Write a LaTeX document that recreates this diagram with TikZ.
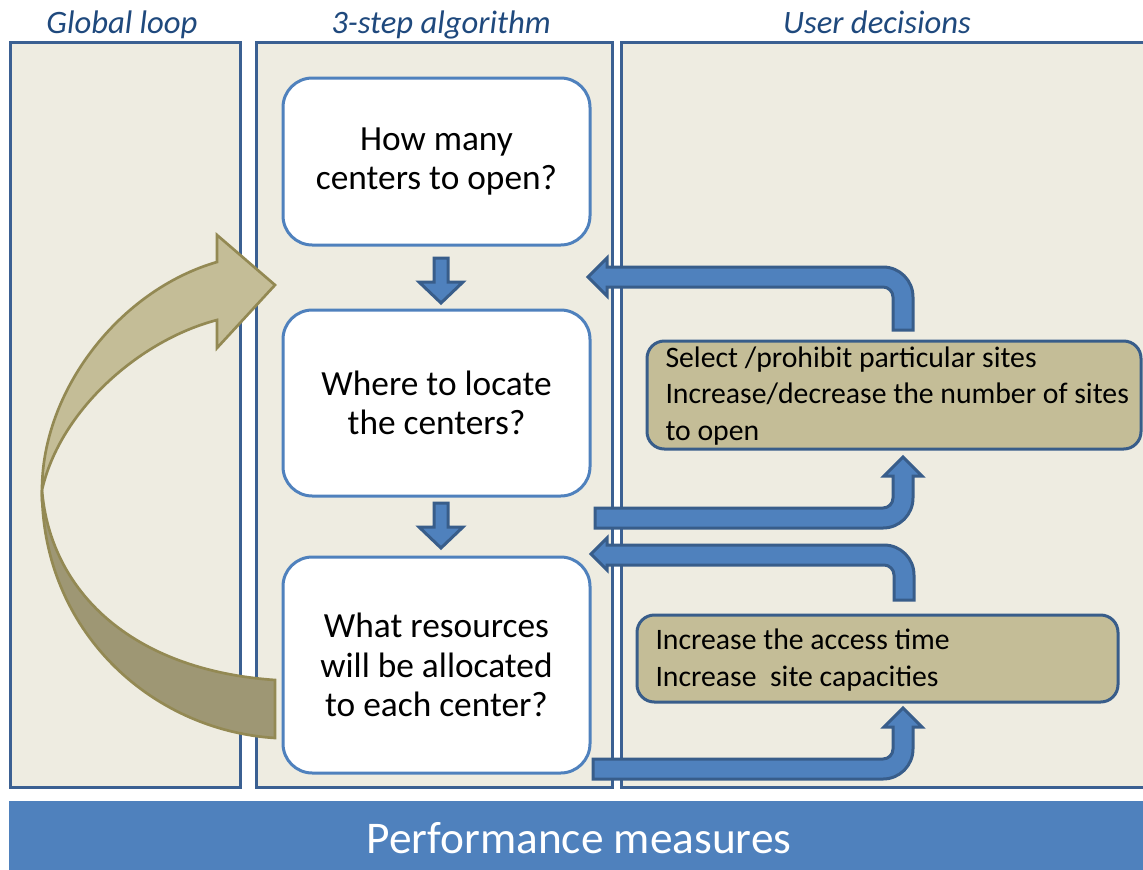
\documentclass[tikz,border=0pt]{standalone}
\usepackage{fontspec}
\setmainfont{Carlito}

\definecolor{panelfill}{RGB}{238,236,225}
\definecolor{paneledge}{RGB}{59,96,146}
\definecolor{accentblue}{RGB}{79,129,189}
\definecolor{arrowedge}{RGB}{56,93,138}
\definecolor{headblue}{RGB}{31,73,125}
\definecolor{tanfill}{RGB}{196,189,151}
\definecolor{tanshade}{RGB}{158,151,116}
\definecolor{oliveedge}{RGB}{147,137,83}

\tikzset{every picture/.style={line width=0.75pt}}
\tikzset{
	panel/.style={draw=paneledge, fill=panelfill, line width=2.25pt},
	header/.style={text=headblue, anchor=base, font=\fontsize{24.5}{28}\itshape},
	stepbox/.style={draw=accentblue, fill=white, line width=2.25pt, rounded corners=22pt,
		align=center, font=\fontsize{26.5}{29.6}\selectfont, minimum width=230.25pt},
	userbox/.style={draw=arrowedge, fill=tanfill, line width=2.25pt, rounded corners=13pt},
	usertext/.style={anchor=west, align=left, inner sep=0pt, font=\fontsize{22.3}{27.2}\selectfont},
	blockarrow/.style={draw=arrowedge, fill=accentblue, line width=2.25pt, line join=miter},
	loopfront/.style={draw=oliveedge, fill=tanfill, line width=2pt, line join=miter},
	loopback/.style={draw=oliveedge, fill=tanshade, line width=2pt, line join=miter}
}

\begin{document}
\begin{tikzpicture}[x=0.75pt,y=0.75pt,yscale=-1,xscale=1]
	\useasboundingbox (0,0) rectangle (1143,869);

	%Shape: Rectangle [panels]
	\draw [panel] (10,42) rectangle (240,787) ;
	\draw [panel] (256,42) rectangle (612,787) ;
	\draw [panel] (621,42) rectangle (1160,787) ;

	% Text Node
	\draw (122,33) node [header] (hglobal) {Global loop};
	% Text Node
	\draw (441,33) node [header] (halgo) {3-step algorithm};
	% Text Node
	\draw (877,33) node [header] (huser) {User decisions};

	%Shape: Curved Arrow [back part]
	\draw [loopback] (42,490) .. controls (42,630) and (150,730) .. (275,738) -- (275,680) .. controls (130,670) and (50,590) .. (42,490) -- cycle ;
	%Shape: Curved Arrow [front part]
	\draw [loopfront] (42,490) .. controls (42,390) and (120,290) .. (217,262) -- (217,235) -- (275,285) -- (217,348) -- (217,320) .. controls (140,340) and (60,410) .. (42,490) -- cycle ;

	% Step boxes
	\draw (436.5,161.5) node [stepbox, minimum height=125.25pt] (q1) {How many\\centers to open?};
	\draw (436.5,403) node [stepbox, minimum height=139.5pt] (q2) {Where to locate\\the centers?};
	\draw (436.5,665) node [stepbox, minimum height=162pt] (q3) {What resources\\will be allocated\\to each center?};

	%Shape: Down Arrow
	\draw [blockarrow] (434,258) -- (448,258) -- (448,282) -- (463,282) -- (441,303) -- (419,282) -- (434,282) -- cycle ;
	%Shape: Down Arrow
	\draw [blockarrow] (434,503) -- (448,503) -- (448,527) -- (463,527) -- (441,548) -- (419,527) -- (434,527) -- cycle ;

	% User decision boxes
	\draw (894,395) node [userbox, minimum width=370.5pt, minimum height=81pt] (selbox) {};
	\draw (665,396) node [usertext] (seltext) {Select /prohibit particular sites\\Increase/decrease the number of sites\\to open};
	\draw (877.5,658.5) node [userbox, minimum width=360.75pt, minimum height=65.25pt] (capbox) {};
	\draw (655,660) node [usertext] (captext) {Increase the access time\\Increase\ \ site capacities};

	%Shape: Bent Arrow [back to step 1]
	\draw [blockarrow] (588,277) -- (607,258) -- (607,267) -- (883,267) .. controls (899.6,267) and (913,280.4) .. (913,297) -- (913,330) -- (893,330) -- (893,297) .. controls (893,291.5) and (888.5,287) .. (883,287) -- (607,287) -- (607,296) -- cycle ;
	%Shape: Bent Arrow [up to sites]
	\draw [blockarrow] (595,508) -- (883,508) .. controls (888.5,508) and (893,503.5) .. (893,498) -- (893,476) -- (884,476) -- (903,457) -- (922,476) -- (913,476) -- (913,498) .. controls (913,514.6) and (899.6,528) .. (883,528) -- (595,528) -- cycle ;
	%Shape: Bent Arrow [back to step 3]
	\draw [blockarrow] (591,554) -- (607,538) -- (607,545) -- (884,545) .. controls (900.6,545) and (914,558.4) .. (914,575) -- (914,600) -- (894,600) -- (894,575) .. controls (894,569.5) and (889.5,565) .. (884,565) -- (607,565) -- (607,570) -- cycle ;
	%Shape: Bent Arrow [up to capacities]
	\draw [blockarrow] (593,759) -- (883,759) .. controls (888.5,759) and (893,754.5) .. (893,749) -- (893,727) -- (884,727) -- (903,708) -- (922,727) -- (913,727) -- (913,749) .. controls (913,765.6) and (899.6,779) .. (883,779) -- (593,779) -- cycle ;

	%Shape: Rectangle [bottom bar]
	\fill [accentblue] (9,801) rectangle (1160,880) ;
	% Text Node
	\draw (579,838) node [text=white, font=\fontsize{34}{40}\selectfont] (perf) {Performance measures};

\end{tikzpicture}
\end{document}
